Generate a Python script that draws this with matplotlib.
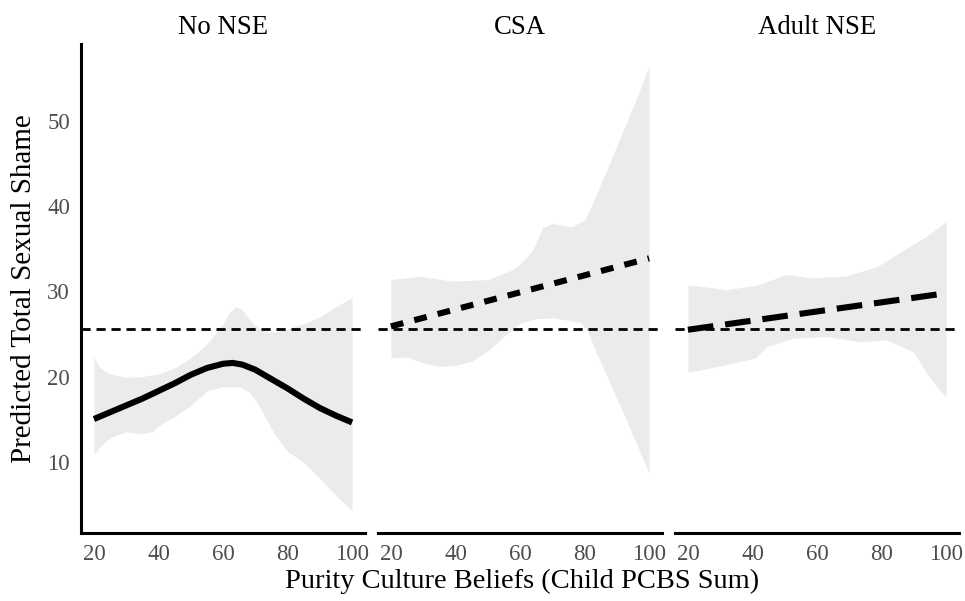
import numpy as np
import matplotlib.pyplot as plt

plt.rcParams['font.family'] = ['Liberation Serif', 'DejaVu Serif']

panels = ['No NSE', 'CSA', 'Adult NSE']
ref_line = 25.6

# No NSE
nonse_x = [20, 25, 30, 35, 40, 45, 50, 55, 60, 63, 66, 70, 75, 80, 85, 90, 95, 100]
nonse_fit = [15.0, 15.8, 16.6, 17.4, 18.3, 19.2, 20.2, 21.0, 21.5, 21.6, 21.4, 20.8,
             19.7, 18.6, 17.4, 16.3, 15.4, 14.6]
nonse_up_x = [20, 22, 25, 30, 35, 40, 45, 50, 55, 58, 60, 62, 64, 66, 68, 70, 73, 76,
              80, 85, 90, 95, 100]
nonse_up = [22.3, 21.0, 20.3, 19.9, 20.0, 20.3, 21.0, 22.2, 23.8, 25.2, 26.2, 27.5, 28.2,
            27.8, 26.8, 26.0, 25.3, 25.2, 25.6, 26.2, 27.0, 28.2, 29.3]
nonse_lo_x = [20, 22, 25, 30, 35, 38, 40, 45, 50, 55, 60, 65, 68, 70, 73, 76, 80, 85,
              90, 95, 100]
nonse_lo = [10.8, 11.8, 12.8, 13.5, 13.3, 13.5, 14.2, 15.3, 16.6, 18.3, 18.8, 18.8, 18.2,
            17.3, 15.3, 13.2, 11.2, 9.9, 8.0, 6.0, 4.2]

# CSA
csa_x = [20, 40, 60, 80, 100]
csa_fit = [25.9, 27.9, 29.9, 31.9, 33.9]
csa_up_x = [20, 29, 39, 50, 58, 61, 64, 67, 70, 76, 80, 83, 86, 89, 92, 96, 100]
csa_up = [31.4, 31.8, 31.2, 31.4, 32.6, 33.6, 34.9, 37.5, 38.0, 37.6, 38.4, 40.8, 43.5,
          46.2, 49.0, 52.6, 56.5]
csa_lo_x = [20, 25, 30, 35, 40, 45, 50, 55, 60, 65, 70, 75, 79, 81, 83, 86, 92, 96, 100]
csa_lo = [22.2, 22.3, 21.6, 21.2, 21.3, 21.8, 23.0, 24.7, 26.3, 26.8, 26.9, 26.6, 26.3,
          25.3, 23.4, 20.8, 15.7, 12.2, 8.6]

# Adult NSE
adult_x = [20, 60, 100]
adult_fit = [25.5, 27.65, 29.8]
adult_up_x = [20, 32, 42, 50.5, 58, 69, 78.5, 87, 94, 100]
adult_up = [30.8, 30.2, 30.8, 32.0, 31.6, 31.8, 32.9, 34.9, 36.5, 38.2]
adult_lo_x = [20, 26.7, 32, 41, 44.3, 52.6, 63, 73.3, 81.6, 89.9, 94, 97.1, 100]
adult_lo = [20.5, 21.0, 21.4, 22.2, 23.5, 24.5, 24.7, 24.1, 24.3, 22.9, 20.4, 18.8, 17.6]

series = [
    (nonse_x, nonse_fit, nonse_up_x, nonse_up, nonse_lo_x, nonse_lo, None),
    (csa_x, csa_fit, csa_up_x, csa_up, csa_lo_x, csa_lo, (2.1, 1.85)),
    (adult_x, adult_fit, adult_up_x, adult_up, adult_lo_x, adult_lo, (4.2, 1.95)),
]

fig = plt.figure(figsize=(9.65, 6.01), dpi=100)
W, H = 965, 601
lefts = [81, 378, 675]
pw = 284
top, bottom = 44, 533

for i, (name, s) in enumerate(zip(panels, series)):
    fx, fy, ux, uy, lx, ly, dash = s
    ax = fig.add_axes([lefts[i] / W, 1 - bottom / H, pw / W, (bottom - top) / H])
    grid = np.union1d(ux, lx)
    upper = np.interp(grid, ux, uy)
    lower = np.interp(grid, lx, ly)
    ax.fill_between(grid, lower, upper, color='#ebebeb', lw=0, zorder=1)
    ax.axhline(ref_line, color='black', lw=2.0, dashes=(3.3, 2.1),
               dash_capstyle='butt', zorder=2)
    if dash is None:
        ax.plot(fx, fy, color='black', lw=4.4, solid_capstyle='butt', zorder=3)
    else:
        ax.plot(fx, fy, color='black', lw=4.4, dashes=dash,
                dash_capstyle='butt', zorder=3)
    ax.set_xlim(16, 104)
    ax.set_ylim(1.6, 59.1)
    ax.set_xticks([20, 40, 60, 80, 100])
    ax.tick_params(length=0, labelsize=16.5, labelcolor='#4d4d4d', pad=8)
    for sp in ['top', 'right']:
        ax.spines[sp].set_visible(False)
    ax.spines['bottom'].set_linewidth(2.2)
    if i == 0:
        ax.spines['left'].set_linewidth(2.2)
        ax.set_yticks([10, 20, 30, 40, 50])
        ax.set_ylabel('Predicted Total Sexual Shame', fontsize=21, labelpad=7)
    else:
        ax.spines['left'].set_visible(False)
        ax.set_yticks([])
    ax.set_title(name, fontsize=19.3, pad=7)

fig.text(522 / W, 1 - 581 / H, 'Purity Culture Beliefs (Child PCBS Sum)',
         fontsize=20.5, ha='center', va='center')

fig.savefig('out.png', dpi=100)
